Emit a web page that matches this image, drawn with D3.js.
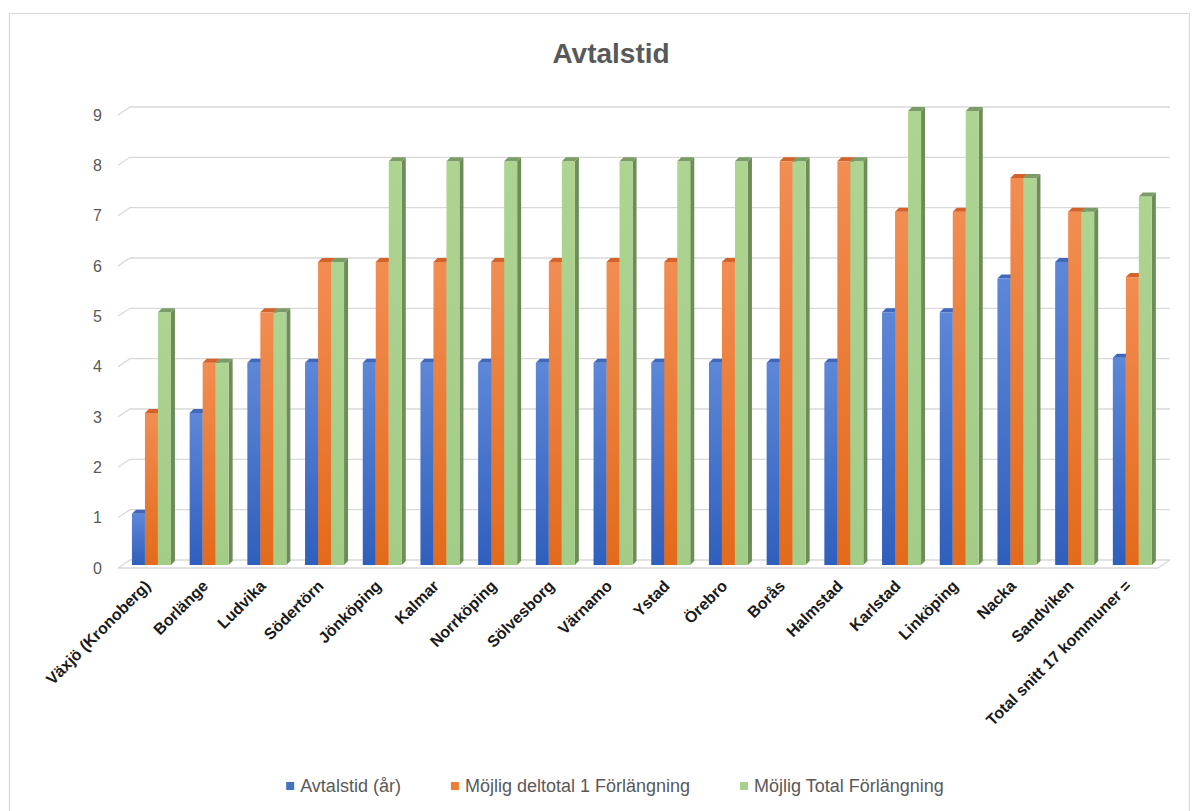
<!DOCTYPE html>
<html>
<head>
<meta charset="utf-8">
<script src="https://cdn.jsdelivr.net/npm/d3@7"></script>
<style>
  body { margin: 0; background: #fff; }
  svg { display: block; }
</style>
</head>
<body>
<div id="chart"></div>
<script>
// data
const categories = ["Växjö (Kronoberg)", "Borlänge", "Ludvika", "Södertörn", "Jönköping", "Kalmar",
    "Norrköping", "Sölvesborg", "Värnamo", "Ystad", "Örebro", "Borås", "Halmstad", "Karlstad",
    "Linköping", "Nacka", "Sandviken", "Total snitt 17 kommuner ="];
const avtalstid = [1, 3, 4, 4, 4, 4, 4, 4, 4, 4, 4, 4, 4, 5, 5, 5.67, 6, 4.1];
const deltotal = [3, 4, 5, 6, 6, 6, 6, 6, 6, 6, 6, 8, 8, 7, 7, 7.67, 7, 5.7];
const totalForl = [5, 4, 5, 6, 8, 8, 8, 8, 8, 8, 8, 8, 8, 9, 9, 7.67, 7, 7.3];
const seriesNames = ["Avtalstid (år)", "Möjlig deltotal 1 Förlängning", "Möjlig Total Förlängning"];
const yTicks = [0, 1, 2, 3, 4, 5, 6, 7, 8, 9];

// front / top / side colours per series
const palette = [
    { top: "#5d87d8", bottom: "#2f5fbd", cap: "#3f68bd", side: "#2a4f9a", key: "#4472c4" },
    { top: "#f28d52", bottom: "#e36a1a", cap: "#d4622a", side: "#b9561b", key: "#ed7d31" },
    { top: "#add491", bottom: "#a3cc87", cap: "#7b9c66", side: "#6d8c58", key: "#a9d18e" }
];

const width = 1198, height = 811;
const depthX = 4, depthY = 4;      // bar depth offset
const floorX = 12, floorY = 8;     // wall/floor depth offset
const barBase = 565;

const seriesData = [avtalstid, deltotal, totalForl];

const svg = d3.select("#chart").append("svg")
    .attr("width", width)
    .attr("height", height)
    .style("font-family", "'Liberation Sans', Arial, sans-serif");

// chart border
svg.append("rect")
    .attr("x", 9.5).attr("y", 13.5)
    .attr("width", 1180).attr("height", 810)
    .attr("fill", "white")
    .attr("stroke", "#d9d9d9")
    .attr("stroke-width", 1.2);

const defs = svg.append("defs");
palette.forEach((p, i) => {
    const g = defs.append("linearGradient")
        .attr("id", "grad" + i)
        .attr("x1", 0).attr("y1", 0).attr("x2", 0).attr("y2", 1);
    g.append("stop").attr("offset", "0%").attr("stop-color", p.top);
    g.append("stop").attr("offset", "100%").attr("stop-color", p.bottom);
});

const y = d3.scaleLinear().domain([0, 9]).range([560, 107]);
const x = d3.scaleBand()
    .domain(categories)
    .range([122.6, 1161.2])
    .paddingInner(0.324)
    .paddingOuter(0.162);
const xs = d3.scaleBand().domain(d3.range(3)).range([0, x.bandwidth()]);

const left = 118 + floorX, right = 1170;

// gridlines with the little wall diagonal on the left
svg.append("g").selectAll("path")
    .data(yTicks)
    .join("path")
    .attr("d", d => `M${left - floorX},${y(d) + floorY}L${left},${y(d)}L${right},${y(d)}`)
    .attr("fill", "none")
    .attr("stroke", "#d9d9d9")
    .attr("stroke-width", 1.3);

// floor front edge
svg.append("path")
    .attr("d", `M${left - floorX},${y(0) + floorY}L${right - floorX},${y(0) + floorY}L${right},${y(0)}`)
    .attr("fill", "none")
    .attr("stroke", "#d9d9d9")
    .attr("stroke-width", 1.3);

// y tick labels
svg.append("g").selectAll("text")
    .data(yTicks)
    .join("text")
    .attr("x", 102)
    .attr("y", d => y(d) + floorY)
    .attr("dy", "0.35em")
    .attr("text-anchor", "end")
    .attr("fill", "#595959")
    .style("font-size", "16px")
    .text(d => d);

// bars: one group per category, series drawn left to right
const bars = [];
categories.forEach((c, ci) => {
    seriesData.forEach((s, si) => {
        bars.push({ cat: c, si: si, value: s[ci] });
    });
});

const barG = svg.append("g").selectAll("g")
    .data(bars)
    .join("g");

function geom(d) {
    const x0 = x(d.cat) + xs(d.si);
    const w = xs.bandwidth();
    const yt = y(d.value) + depthY;
    return { x0, w, yt };
}

barG.append("path")   // side face
    .attr("d", d => {
        const { x0, w, yt } = geom(d);
        return `M${x0 + w},${yt}L${x0 + w + depthX},${yt - depthY}L${x0 + w + depthX},${barBase - depthY}L${x0 + w},${barBase}Z`;
    })
    .attr("fill", d => palette[d.si].side);

barG.append("rect")   // front face
    .attr("x", d => geom(d).x0)
    .attr("y", d => geom(d).yt)
    .attr("width", xs.bandwidth())
    .attr("height", d => barBase - geom(d).yt)
    .attr("fill", d => `url(#grad${d.si})`);

barG.append("path")   // top face
    .attr("d", d => {
        const { x0, w, yt } = geom(d);
        return `M${x0},${yt}L${x0 + w},${yt}L${x0 + w + depthX},${yt - depthY}L${x0 + depthX},${yt - depthY}Z`;
    })
    .attr("fill", d => palette[d.si].cap);

// category labels, rotated
svg.append("g").selectAll("text")
    .data(categories)
    .join("text")
    .attr("transform", d => `translate(${x(d) + x.bandwidth() / 2},${587}) rotate(-45)`)
    .attr("text-anchor", "end")
    .attr("fill", "#1a1a1a")
    .style("font-size", "16px")
    .style("font-weight", "bold")
    .text(d => d);

// title
svg.append("text")
    .attr("x", 611)
    .attr("y", 63)
    .attr("text-anchor", "middle")
    .attr("fill", "#595959")
    .style("font-size", "28px")
    .style("font-weight", "bold")
    .text("Avtalstid");

// legend
const legend = svg.append("g");
const items = legend.selectAll("g")
    .data(seriesNames)
    .join("g");
items.append("rect")
    .attr("width", 8).attr("height", 8)
    .attr("y", -4)
    .attr("fill", (d, i) => palette[i].key);
items.append("text")
    .attr("x", 14)
    .attr("dy", "0.35em")
    .attr("fill", "#595959")
    .style("font-size", "18px")
    .text(d => d);

let cursor = 0;
const gap = 50;
items.each(function () {
    const g = d3.select(this);
    const w = 14 + g.select("text").node().getComputedTextLength();
    g.attr("transform", `translate(${cursor},0)`);
    cursor += w + gap;
});
const legendWidth = cursor - gap;
legend.attr("transform", `translate(${615 - legendWidth / 2},786)`);
</script>
</body>
</html>
